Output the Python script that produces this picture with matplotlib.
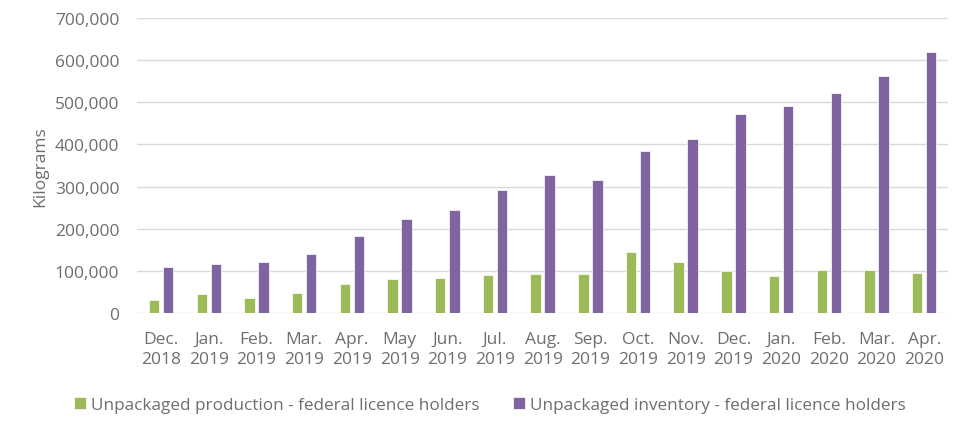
import matplotlib
matplotlib.use("Agg")
import matplotlib.pyplot as plt
import numpy as np
from matplotlib.ticker import FuncFormatter

months = ["Dec.\n2018", "Jan.\n2019", "Feb.\n2019", "Mar.\n2019", "Apr.\n2019", "May\n2019",
          "Jun.\n2019", "Jul.\n2019", "Aug.\n2019", "Sep.\n2019", "Oct.\n2019", "Nov.\n2019",
          "Dec.\n2019", "Jan.\n2020", "Feb.\n2020", "Mar.\n2020", "Apr.\n2020"]
production = [31000, 44000, 36000, 48000, 68000, 81000, 83000, 90000, 93000, 93000,
              144000, 120000, 100000, 88000, 103000, 103000, 95000]
inventory = [110000, 117000, 120000, 139000, 182000, 222000, 244000, 291000, 328000, 315000,
             384000, 412000, 471000, 490000, 523000, 563000, 620000]
series_names = ["Unpackaged production - federal licence holders",
                "Unpackaged inventory - federal licence holders"]

plt.rcParams['font.family'] = ['Open Sans', 'DejaVu Sans']
grey = "#6E6E6E"

fig = plt.figure(figsize=(9.6, 4.31), dpi=100)
ax = fig.add_axes([0.143, 0.2715, 0.8445, 0.6845])

x = np.arange(len(months))
w = 0.22
off = 0.147
ax.bar(x - off, production, w, color="#9BBB59", edgecolor="white", linewidth=0.5,
       label=series_names[0], zorder=3)
ax.bar(x + off, inventory, w, color="#8064A2", edgecolor="white", linewidth=0.5,
       label=series_names[1], zorder=3)

ax.set_xlim(-0.5, len(months) - 0.5)
ax.set_ylim(0, 700000)
ax.set_yticks(np.arange(0, 700001, 100000))
ax.yaxis.set_major_formatter(FuncFormatter(lambda v, p: f"{int(v):,}"))
ax.set_xticks(x)
ax.set_xticklabels(months, linespacing=1.3)
ax.grid(axis="y", color="#D9D9D9", linewidth=1.0, zorder=0)
for s in ax.spines.values():
    s.set_visible(False)
ax.tick_params(axis="both", length=0, labelsize=12.5, labelcolor=grey)
ax.tick_params(axis="y", pad=13)
ax.tick_params(axis="x", pad=13)
ax.set_ylabel("Kilograms", fontsize=12.5, color=grey, labelpad=5)

fig.legend(loc="center", bbox_to_anchor=(0.51, 0.058), ncol=2, frameon=False,
           fontsize=12.3, labelcolor=grey, handlelength=0.7, handleheight=0.7,
           handletextpad=0.3, columnspacing=1.95)

fig.savefig("out.png", dpi=100)
